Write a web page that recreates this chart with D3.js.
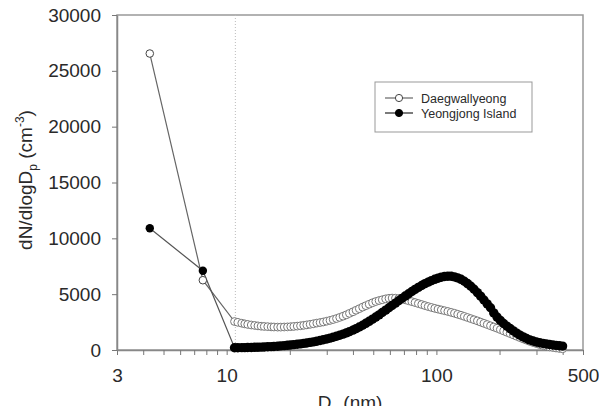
<!DOCTYPE html>
<html>
<head>
<meta charset="utf-8">
<script src="https://cdn.jsdelivr.net/npm/d3@7/dist/d3.min.js"></script>
<style>
body { margin: 0; background: #fff; }
svg text { font-family: "Liberation Sans", Arial, sans-serif; fill: #2a2a2a; }
</style>
</head>
<body>
<div id="chart"></div>
<script>
// diameters (nm): two small points, then the SMPS bins
var diam = [4.3, 7.7,
    10.9, 11.3, 11.8, 12.2, 12.6, 13.1, 13.6, 14.1, 14.6, 15.1,
    15.7, 16.3, 16.8, 17.5, 18.1, 18.8, 19.5, 20.2, 20.9, 21.7,
    22.5, 23.3, 24.1, 25.0, 25.9, 26.9, 27.9, 28.9, 30.0, 31.1,
    32.2, 33.4, 34.6, 35.9, 37.2, 38.5, 40.0, 41.4, 42.9, 44.5,
    46.1, 47.8, 49.6, 51.4, 53.3, 55.2, 57.3, 59.4, 61.5, 63.8,
    66.1, 68.5, 71.0, 73.7, 76.4, 79.1, 82.0, 85.1, 88.2, 91.4,
    94.7, 98.2, 101.8, 105.5, 109.4, 113.4, 117.6, 121.9, 126.3, 131.0,
    135.8, 140.7, 145.9, 151.2, 156.8, 162.5, 168.5, 174.7, 181.1, 187.7,
    194.6, 201.7, 209.1, 216.7, 224.7, 232.9, 241.4, 250.3, 259.5, 269.0,
    278.8, 289.0, 299.6, 310.6, 322.0, 333.8, 346.0, 358.7, 371.8, 385.4,
    399.5];

var daegwallyeong = [26550, 6250,
    2550, 2480, 2400, 2340, 2290, 2240, 2200, 2160, 2130, 2110,
    2090, 2070, 2060, 2050, 2050, 2060, 2070, 2090, 2110, 2140,
    2170, 2210, 2250, 2300, 2350, 2410, 2460, 2510, 2580, 2650,
    2730, 2820, 2920, 3030, 3150, 3280, 3420, 3560, 3700, 3840,
    3970, 4100, 4230, 4340, 4430, 4500, 4580, 4630, 4650, 4640,
    4610, 4560, 4490, 4410, 4330, 4250, 4160, 4070, 3980, 3890,
    3810, 3730, 3660, 3590, 3520, 3450, 3370, 3290, 3200, 3110,
    3010, 2910, 2810, 2710, 2610, 2500, 2390, 2280, 2170, 2060,
    1950, 1830, 1710, 1590, 1470, 1350, 1230, 1110, 990, 880,
    770, 670, 580, 490, 410, 340, 280, 230, 180, 140,
    110];

var yeongjong = [10900, 7100,
    200, 205, 210, 215, 220, 230, 240, 250, 260, 275,
    290, 305, 320, 340, 365, 390, 420, 450, 480, 515,
    550, 590, 630, 680, 730, 790, 850, 920, 990, 1060,
    1140, 1230, 1320, 1420, 1530, 1650, 1780, 1910, 2060, 2220,
    2390, 2570, 2760, 2950, 3150, 3360, 3570, 3780, 3990, 4200,
    4410, 4620, 4830, 5040, 5240, 5430, 5610, 5780, 5940, 6080,
    6210, 6330, 6430, 6520, 6580, 6610, 6600, 6550, 6460, 6330,
    6160, 5950, 5710, 5440, 5140, 4820, 4480, 4130, 3780, 3320,
    2950, 2650, 2370, 2140, 1920, 1710, 1510, 1330, 1170, 1030,
    910, 810, 720, 650, 590, 540, 490, 450, 410, 380,
    350];

var xMinorTicks = [3, 4, 5, 6, 7, 8, 9, 10, 20, 30, 40, 50, 60, 70, 80, 90, 100, 200, 300, 400, 500];
var xTickLabels = [3, 10, 100, 500];
var yTicks = [0, 5000, 10000, 15000, 20000, 25000, 30000];
var cutoff = 11; // dotted line, start of SMPS range
var seriesNames = ["Daegwallyeong", "Yeongjong Island"];

var width = 599, height = 406;
var plotLeft = 117, plotRight = 583, plotTop = 15, plotBottom = 350;

var svg = d3.select("#chart")
            .append("svg")
            .attr("width", width)
            .attr("height", height);

var x = d3.scaleLog().domain([3, 500]).range([plotLeft, plotRight]);
var y = d3.scaleLinear().domain([0, 30000]).range([plotBottom, plotTop]);

// frame
svg.append("rect")
   .attr("x", plotLeft).attr("y", plotTop)
   .attr("width", plotRight - plotLeft).attr("height", plotBottom - plotTop)
   .style("fill", "none")
   .style("stroke", "#999")
   .style("stroke-width", 1.5);

// x axis
var xAxis = svg.append("g")
   .attr("transform", "translate(0," + plotBottom + ")")
   .call(d3.axisBottom(x).tickValues(xMinorTicks).tickSize(5).tickSizeOuter(0)
         .tickFormat(function(d){ return xTickLabels.indexOf(d) >= 0 ? d : ""; }));
xAxis.select(".domain").style("stroke", "#888").style("stroke-width", 1.5);
xAxis.selectAll(".tick line").style("stroke", "#777");
xAxis.selectAll(".tick text").attr("y", 19).style("font-size", "19px").style("fill", "#2a2a2a");

// y axis
var yAxis = svg.append("g")
   .attr("transform", "translate(" + plotLeft + ",0)")
   .call(d3.axisLeft(y).tickValues(yTicks).tickSize(5).tickSizeOuter(0).tickFormat(d3.format("d")));
yAxis.select(".domain").style("stroke", "#888").style("stroke-width", 1.5);
yAxis.selectAll(".tick line").style("stroke", "#777");
yAxis.selectAll(".tick text").attr("x", -16).style("font-size", "19px").style("fill", "#2a2a2a");

svg.selectAll(".tick text").style("font-family", "'Liberation Sans', Arial, sans-serif");

// dotted reference line
svg.append("line")
   .attr("x1", x(cutoff)).attr("x2", x(cutoff))
   .attr("y1", plotTop).attr("y2", plotBottom)
   .style("stroke", "#bbb")
   .style("stroke-dasharray", "1,2");

var line = d3.line()
    .x(function(d){ return x(d[0]); })
    .y(function(d){ return y(d[1]); });

var openData = d3.zip(diam, daegwallyeong);
var fillData = d3.zip(diam, yeongjong);

svg.append("path").datum(openData)
   .attr("d", line)
   .style("fill", "none").style("stroke", "#666").style("stroke-width", 1.2);
svg.append("path").datum(fillData)
   .attr("d", line)
   .style("fill", "none").style("stroke", "#555").style("stroke-width", 1.2);

svg.selectAll("circle.open")
   .data(openData)
   .enter()
   .append("circle")
   .attr("class", "open")
   .attr("cx", function(d){ return x(d[0]); })
   .attr("cy", function(d){ return y(d[1]); })
   .attr("r", function(d, i){ return i < 2 ? 3.8 : 3.9; })
   .style("fill", "#fff")
   .style("stroke", function(d, i){ return i < 2 ? "#444" : "#777"; })
   .style("stroke-width", 1);

svg.selectAll("circle.fill")
   .data(fillData)
   .enter()
   .append("circle")
   .attr("class", "fill")
   .attr("cx", function(d){ return x(d[0]); })
   .attr("cy", function(d){ return y(d[1]); })
   .attr("r", function(d, i){ return i < 2 ? 4.2 : 4.7; })
   .style("fill", "#000");

// legend
var legend = svg.append("g");
legend.append("rect")
      .attr("x", 375).attr("y", 82)
      .attr("width", 157).attr("height", 50)
      .style("fill", "#fff").style("stroke", "#999").style("stroke-width", 1);

var legendRows = legend.selectAll("g.row")
      .data(seriesNames)
      .enter()
      .append("g")
      .attr("transform", function(d, i){ return "translate(0," + (98 + i * 15) + ")"; });
legendRows.append("line")
      .attr("x1", 385).attr("x2", 413).attr("y1", 0).attr("y2", 0)
      .style("stroke", function(d, i){ return i == 0 ? "#666" : "#222"; })
      .style("stroke-width", 1.2);
legendRows.append("circle")
      .attr("cx", 399).attr("cy", 0).attr("r", 3.6)
      .style("fill", function(d, i){ return i == 0 ? "#fff" : "#000"; })
      .style("stroke", function(d, i){ return i == 0 ? "#444" : "#000"; });
legendRows.append("text")
      .attr("x", 421).attr("y", 4.5)
      .style("font-size", "12.5px")
      .text(function(d){ return d; });

// axis titles
var yTitle = svg.append("text")
   .attr("transform", "translate(32,180) rotate(-90)")
   .attr("text-anchor", "middle")
   .style("font-size", "19px");
yTitle.append("tspan").text("dN/dlogD");
yTitle.append("tspan").attr("dy", 5).style("font-size", "12px").text("p");
yTitle.append("tspan").attr("dy", -5).text(" (cm");
yTitle.append("tspan").attr("dy", -8).style("font-size", "12px").text("-3");
yTitle.append("tspan").attr("dy", 8).text(")");

var xTitle = svg.append("text")
   .attr("x", 350).attr("y", 409)
   .attr("text-anchor", "middle")
   .style("font-size", "19px");
xTitle.append("tspan").text("D");
xTitle.append("tspan").attr("dy", 5).style("font-size", "12px").text("p");
xTitle.append("tspan").attr("dy", -5).text("  (nm)");
</script>
</body>
</html>
